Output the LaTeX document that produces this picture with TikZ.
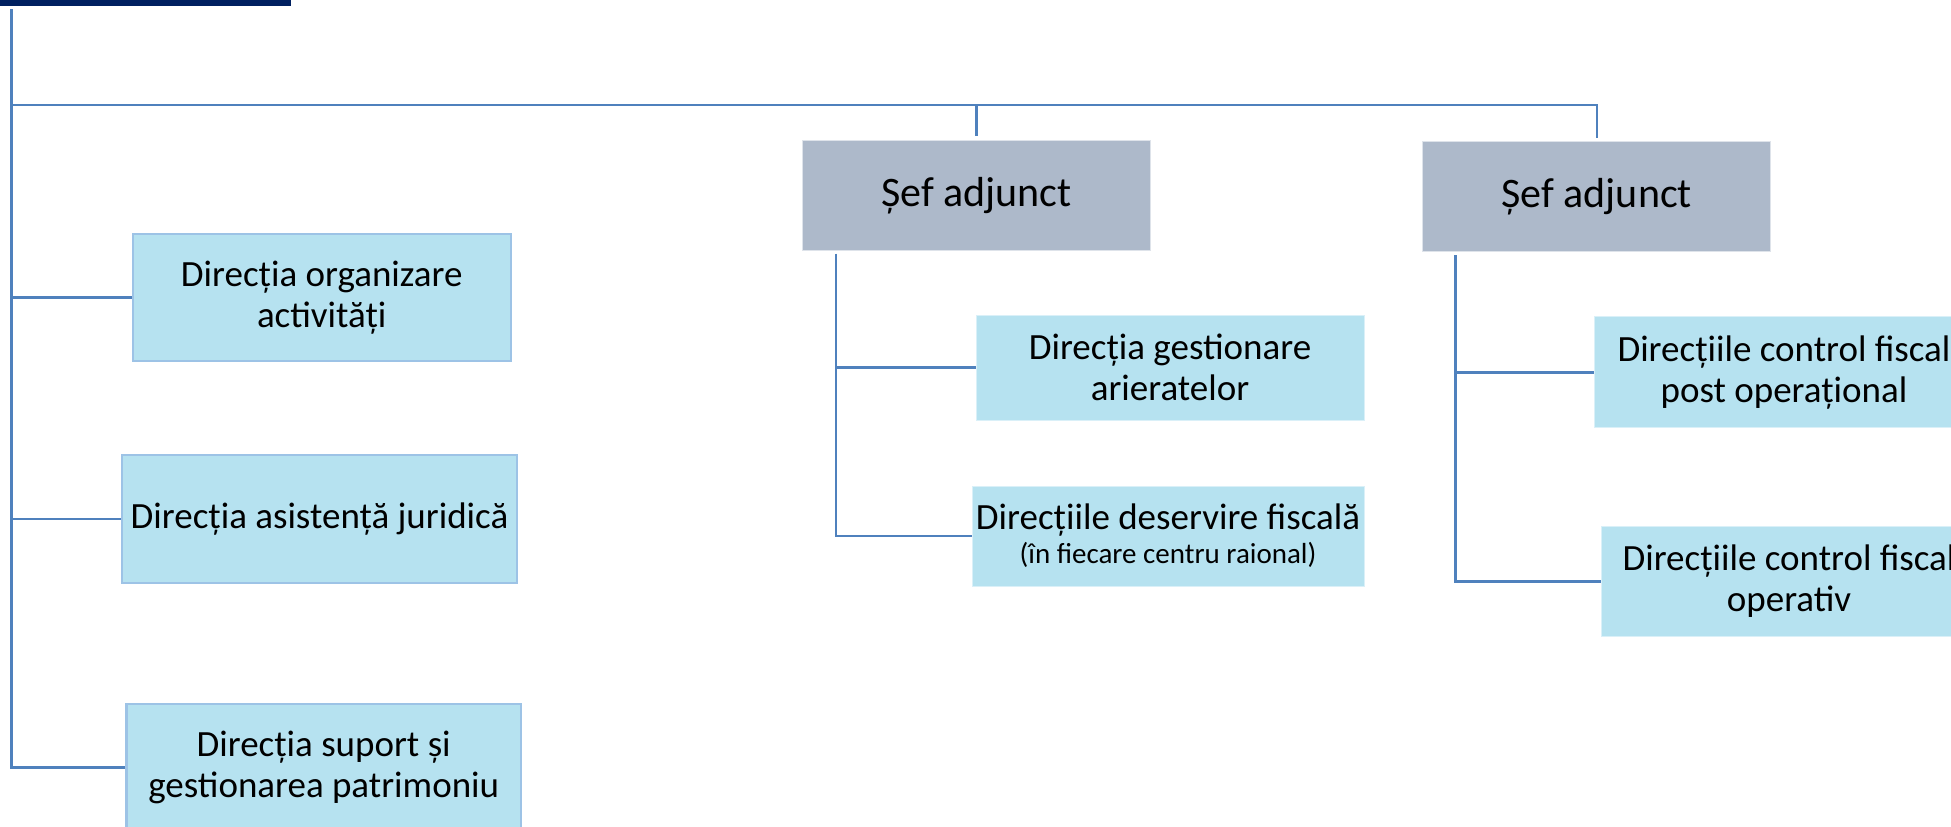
\documentclass[tikz,border=0pt]{standalone}
\usepackage{fontspec}
\setmainfont{Carlito}
\usetikzlibrary{positioning}
\definecolor{linkblue}{RGB}{79,129,189}
\definecolor{chiefnavy}{RGB}{0,32,96}
\definecolor{deptcyan}{RGB}{182,226,240}
\definecolor{deptedge}{RGB}{157,195,230}
\definecolor{deputygray}{RGB}{173,185,202}

\begin{document}
\begin{tikzpicture}[
        x=0.5pt, y=-0.5pt,
        node distance=32.5pt,
        dept/.style={rectangle, draw=deptedge, line width=1.1pt, fill=deptcyan, inner sep=0pt, align=center, font=\fontsize{18.5}{20.5}\selectfont},
        subdept/.style={rectangle, draw=white!50!deptcyan, line width=0.5pt, fill=deptcyan, inner sep=0pt, align=center, font=\fontsize{18.5}{20.5}\selectfont},
        deputy/.style={rectangle, draw=white!60!deputygray, line width=0.5pt, fill=deputygray, minimum width=174pt, minimum height=55pt, inner sep=0pt, align=center, font=\fontsize{21}{25}\selectfont},
        link/.style={draw=linkblue, line width=1.3pt}
    ]
        \clip (0,0) rectangle (1951,826);
        % chief box, cut off by the top edge
        \node[fill=chiefnavy, minimum width=145.5pt, minimum height=20pt, inner sep=0pt, anchor=south west] (chief) at (0,6) {};

        \node[dept, minimum width=189pt, minimum height=63.5pt] (org) at (321.7,297.3) {Direcția organizare\\activități};
        \node[dept, minimum width=197.2pt, minimum height=63.8pt] (jur) at (319.5,518.8) {Direcția asistență juridică};
        \node[dept, minimum width=197.3pt, minimum height=63.5pt] (sup) at (323.7,767.7) {Direcția suport și\\gestionarea patrimoniu};

        \node[deputy] (sefA) at (976.7,195.2) {Șef adjunct};
        \node[deputy] (sefB) at (1596.8,196.8) {Șef adjunct};

        \node[subdept, minimum width=194pt, minimum height=52.3pt] (gest) at (1170,367.7) {Direcția gestionare\\arieratelor};
        \node[subdept, minimum width=196pt, minimum height=50pt, below=32.5pt of gest, xshift=-1pt] (deserv) {Direcțiile deservire fiscală\\[-3.6pt]{\fontsize{14.5}{16}\selectfont (în fiecare centru raional)}};
        \node[subdept, minimum width=190pt, minimum height=55.5pt] (post) at (1784,372.2) {Direcțiile control fiscal\\post operațional};
        \node[subdept, minimum width=188pt, minimum height=55.3pt] (oper) at (1789,581.3) {Direcțiile control fiscal\\operativ};

        % main trunk and bus
        \coordinate (trunk) at (11.3,9);
        \coordinate (bus) at (11.3,105);
        \draw[link] (trunk) |- (sup.west);
        \draw[link] (trunk |- org.west) -- (org.west);
        \draw[link] (trunk |- jur.west) -- (jur.west);
        \draw[link] (bus) -| ([yshift=1.7pt]sefB.north);
        \draw[link] (bus -| sefA.north) -- ([yshift=1.7pt]sefA.north);

        % deputies
        \coordinate (subA) at ([shift={(33.7,3)}]sefA.south west);
        \draw[link] (subA) |- (deserv.west);
        \draw[link] (subA |- gest.west) -- (gest.west);
        \coordinate (subB) at ([shift={(33.3,3)}]sefB.south west);
        \draw[link] (subB) |- (oper.west);
        \draw[link] (subB |- post.west) -- (post.west);
\end{tikzpicture}
\end{document}
